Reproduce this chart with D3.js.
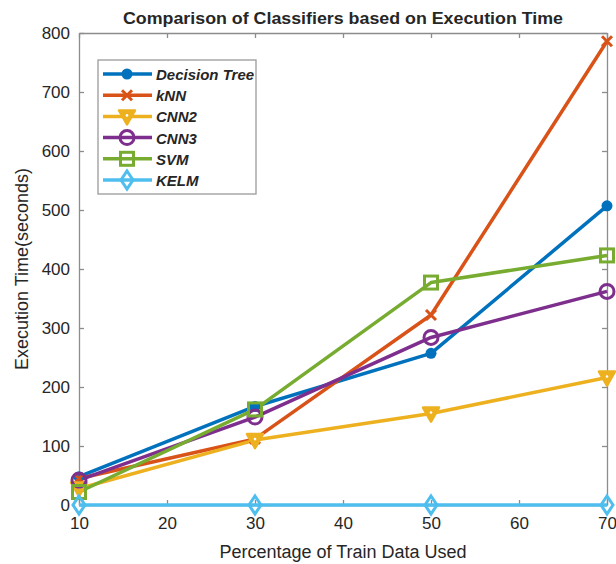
<!DOCTYPE html>
<html lang="en">
<head>
<meta charset="UTF-8">
<title>Comparison of Classifiers based on Execution Time</title>
<script src="https://d3js.org/d3.v7.min.js"></script>
<style>
    body { margin: 0; background: #fff; }
    text { font-family: "Liberation Sans", Arial, sans-serif; fill: #262626; }
</style>
</head>
<body>
<div id="chart"></div>
<script>
    // data
    const percents = [10, 30, 50, 70];
    const seriesNames = ["Decision Tree", "kNN", "CNN2", "CNN3", "SVM", "KELM"];
    const decisionTree = [48, 167, 257, 507];
    const knn = [45, 112, 322, 786];
    const cnn2 = [28, 110, 155, 216];
    const cnn3 = [42, 149, 284, 362];
    const svm = [22, 162, 377, 423];
    const kelm = [0, 0, 0, 0];
    const xTicks = [10, 20, 30, 40, 50, 60, 70];
    const yTicks = [0, 100, 200, 300, 400, 500, 600, 700, 800];

    const colors = ["#0072BD", "#D95319", "#EDB120", "#7E2F8E", "#77AC30", "#4DBEEE"];
    const markers = ["dot", "x", "tri", "circle", "square", "diamond"];
    const allValues = [decisionTree, knn, cnn2, cnn3, svm, kelm];

    const W = 616, H = 564;
    const margin = { top: 33, right: 9, bottom: 59, left: 79 };
    const width = W - margin.left - margin.right,
        height = H - margin.top - margin.bottom;

    const svg = d3.select("#chart").append("svg")
        .attr("width", W).attr("height", H);
    const g = svg.append("g")
        .attr("transform", "translate(" + margin.left + "," + margin.top + ")");

    const x = d3.scaleLinear().domain([10, 70]).range([0, width]);
    const y = d3.scaleLinear().domain([0, 800]).range([height, 0]);

    // axes box with inward ticks
    const axisColor = "#8c8c8c";
    function styleAxis(sel) {
        sel.select(".domain").attr("stroke", axisColor).attr("stroke-width", 1.3);
        sel.selectAll(".tick line").attr("stroke", axisColor).attr("stroke-width", 1.3);
        sel.selectAll(".tick text").style("font-size", "17px").attr("fill", "#262626");
    }
    g.append("g").attr("transform", "translate(0," + height + ")")
        .call(d3.axisBottom(x).tickValues(xTicks).tickSizeInner(-5).tickSizeOuter(0).tickPadding(12))
        .call(styleAxis);
    g.append("g")
        .call(d3.axisTop(x).tickValues(xTicks).tickSizeInner(-5).tickSizeOuter(0).tickFormat(""))
        .call(styleAxis);
    g.append("g")
        .call(d3.axisLeft(y).tickValues(yTicks).tickSizeInner(-5).tickSizeOuter(0).tickPadding(9))
        .call(styleAxis);
    g.append("g").attr("transform", "translate(" + width + ",0)")
        .call(d3.axisRight(y).tickValues(yTicks).tickSizeInner(-5).tickSizeOuter(0).tickFormat(""))
        .call(styleAxis);

    // marker drawing
    function drawMarker(sel, type, color, cx, cy) {
        const m = sel.append("g").attr("transform", "translate(" + cx + "," + cy + ")");
        if (type === "dot") {
            m.append("circle").attr("r", 5.5).attr("fill", color);
        } else if (type === "x") {
            m.append("path").attr("d", "M-5,-5L5,5M-5,5L5,-5")
                .attr("stroke", color).attr("stroke-width", 3);
        } else if (type === "tri") {
            m.append("path").attr("d", "M-8,-6L8,-6L0,8Z")
                .attr("fill", color).attr("stroke", color).attr("stroke-width", 2.5)
                .attr("stroke-linejoin", "round");
            m.append("circle").attr("cx", 0).attr("cy", -1).attr("r", 1.3).attr("fill", "#fff");
        } else if (type === "circle") {
            m.append("circle").attr("r", 7).attr("fill", "none")
                .attr("stroke", color).attr("stroke-width", 3);
        } else if (type === "square") {
            m.append("rect").attr("x", -6.5).attr("y", -6.5).attr("width", 13).attr("height", 13)
                .attr("fill", "none").attr("stroke", color).attr("stroke-width", 3);
        } else if (type === "diamond") {
            m.append("path").attr("d", "M0,-9L6,0L0,9L-6,0Z").attr("fill", "none")
                .attr("stroke", color).attr("stroke-width", 3);
        }
    }

    const line = d3.line().x((d, i) => x(percents[i])).y(d => y(d));

    allValues.forEach((vals, k) => {
        g.append("path").datum(vals)
            .attr("d", line)
            .attr("fill", "none")
            .attr("stroke", colors[k])
            .attr("stroke-width", 3.5)
            .attr("stroke-linejoin", "round");
    });
    allValues.forEach((vals, k) => {
        vals.forEach((v, i) => drawMarker(g, markers[k], colors[k], x(percents[i]), y(v)));
    });

    // legend
    const legend = svg.append("g").attr("transform", "translate(98,60)");
    legend.append("rect").attr("width", 158).attr("height", 134)
        .attr("fill", "#fff").attr("stroke", "#9a9a9a").attr("stroke-width", 1.3);
    seriesNames.forEach((name, k) => {
        const ly = 14 + k * 21.2;
        legend.append("line").attr("x1", 5).attr("x2", 54).attr("y1", ly).attr("y2", ly)
            .attr("stroke", colors[k]).attr("stroke-width", 3.5);
        drawMarker(legend, markers[k], colors[k], 29, ly);
        legend.append("text").attr("x", 58).attr("y", ly + 6)
            .style("font-size", "15px").style("font-weight", "bold").style("font-style", "italic")
            .attr("fill", "#000").text(name);
    });

    // title and axis labels
    svg.append("text").attr("x", margin.left + width / 2).attr("y", 24)
        .attr("text-anchor", "middle")
        .attr("textLength", 440).attr("lengthAdjust", "spacingAndGlyphs")
        .style("font-size", "17px").style("font-weight", "bold").attr("fill", "#000")
        .text("Comparison of Classifiers based on Execution Time");
    svg.append("text").attr("x", margin.left + width / 2).attr("y", 558)
        .attr("text-anchor", "middle").style("font-size", "18px")
        .text("Percentage of Train Data Used");
    svg.append("text")
        .attr("transform", "translate(28," + (margin.top + height / 2) + ") rotate(-90)")
        .attr("text-anchor", "middle").style("font-size", "18px")
        .text("Execution Time(seconds)");
</script>
</body>
</html>
